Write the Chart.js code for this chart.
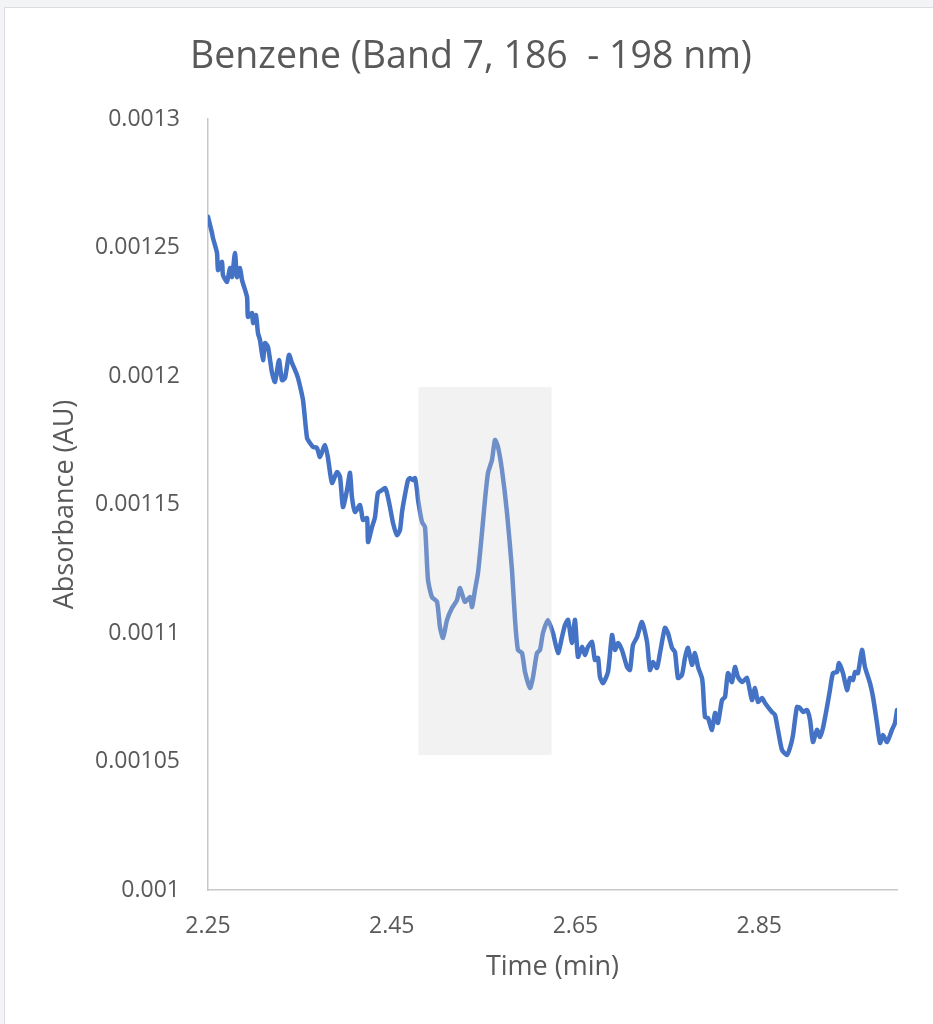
<!DOCTYPE html>
<html>
<head>
<meta charset="utf-8">
<script src="https://cdn.jsdelivr.net/npm/chart.js@4.4.1/dist/chart.umd.min.js"></script>
<style>
  html, body { margin: 0; padding: 0; background: #f3f4f6; overflow: hidden; }
  .card { position: absolute; left: 4px; top: 7px; width: 960px; height: 1040px; background: #fff; border: 1px solid #dcdde1; }
  #chart { position: absolute; left: 0; top: 0; }
</style>
</head>
<body>
<div class="card"></div>
<canvas id="chart" width="933" height="1024"></canvas>
<script>
// time (min)
const times = [
  2.2500, 2.2544, 2.2554, 2.2598, 2.2609, 2.2652, 2.2663, 2.2707, 2.2739, 2.2761,
  2.2794, 2.2816, 2.2848, 2.2870, 2.2925, 2.2935, 2.2979, 2.2990, 2.3022, 2.3044,
  2.3066, 2.3099, 2.3120, 2.3153, 2.3197, 2.3229, 2.3273, 2.3305, 2.3338, 2.3382,
  2.3414, 2.3469, 2.3491, 2.3534, 2.3578, 2.3610, 2.3643, 2.3686, 2.3719, 2.3774,
  2.3806, 2.3850, 2.3904, 2.3937, 2.3969, 2.4013, 2.4046, 2.4067, 2.4100, 2.4155,
  2.4187, 2.4231, 2.4242, 2.4285, 2.4318, 2.4350, 2.4394, 2.4427, 2.4448, 2.4481,
  2.4514, 2.4557, 2.4590, 2.4612, 2.4644, 2.4677, 2.4699, 2.4731, 2.4753, 2.4775,
  2.4786, 2.4829, 2.4862, 2.4895, 2.4938, 2.4993, 2.5025, 2.5058, 2.5102, 2.5156,
  2.5210, 2.5243, 2.5297, 2.5352, 2.5374, 2.5406, 2.5439, 2.5482, 2.5515, 2.5548,
  2.5591, 2.5624, 2.5657, 2.5700, 2.5755, 2.5809, 2.5842, 2.5874, 2.5918, 2.5951,
  2.6005, 2.6038, 2.6081, 2.6114, 2.6146, 2.6201, 2.6255, 2.6310, 2.6353, 2.6386,
  2.6419, 2.6462, 2.6495, 2.6527, 2.6571, 2.6604, 2.6636, 2.6680, 2.6712, 2.6745,
  2.6767, 2.6800, 2.6854, 2.6898, 2.6930, 2.6963, 2.7006, 2.7061, 2.7093, 2.7126,
  2.7170, 2.7224, 2.7279, 2.7311, 2.7344, 2.7387, 2.7420, 2.7474, 2.7507, 2.7551,
  2.7583, 2.7616, 2.7659, 2.7692, 2.7725, 2.7768, 2.7801, 2.7834, 2.7877, 2.7888,
  2.7910, 2.7943, 2.7986, 2.8019, 2.8051, 2.8095, 2.8128, 2.8160, 2.8204, 2.8236,
  2.8269, 2.8313, 2.8367, 2.8421, 2.8454, 2.8487, 2.8530, 2.8563, 2.8596, 2.8639,
  2.8672, 2.8704, 2.8748, 2.8802, 2.8835, 2.8868, 2.8911, 2.8944, 2.8977, 2.9020,
  2.9053, 2.9085, 2.9129, 2.9162, 2.9194, 2.9238, 2.9270, 2.9303, 2.9347, 2.9368,
  2.9412, 2.9456, 2.9488, 2.9521, 2.9543, 2.9575, 2.9619, 2.9651, 2.9706, 2.9739,
  2.9782, 2.9815, 2.9847, 2.9891, 2.9945, 2.9978, 3.0000
];

// absorbance (AU)
const absorbance = [
  0.0012619, 0.0012556, 0.0012537, 0.0012479, 0.0012412, 0.0012444, 0.0012393, 0.0012366, 0.0012420, 0.0012385,
  0.0012479, 0.0012385, 0.0012420, 0.0012374, 0.0012307, 0.0012230, 0.0012245, 0.0012206, 0.0012237, 0.0012167,
  0.0012140, 0.0012062, 0.0012128, 0.0012113, 0.0012012, 0.0011977, 0.0012062, 0.0011984, 0.0011992, 0.0012082,
  0.0012051, 0.0012004, 0.0011977, 0.0011907, 0.0011759, 0.0011739, 0.0011724, 0.0011720, 0.0011685, 0.0011732,
  0.0011681, 0.0011584, 0.0011626, 0.0011607, 0.0011490, 0.0011556, 0.0011623, 0.0011529, 0.0011471, 0.0011498,
  0.0011440, 0.0011447, 0.0011354, 0.0011412, 0.0011451, 0.0011545, 0.0011556, 0.0011564, 0.0011545, 0.0011490,
  0.0011428, 0.0011381, 0.0011401, 0.0011471, 0.0011537, 0.0011595, 0.0011603, 0.0011595, 0.0011603, 0.0011556,
  0.0011518, 0.0011432, 0.0011412, 0.0011206, 0.0011140, 0.0011121, 0.0011023, 0.0010981, 0.0011051, 0.0011097,
  0.0011128, 0.0011175, 0.0011121, 0.0011140, 0.0011101, 0.0011167, 0.0011234, 0.0011389, 0.0011518, 0.0011623,
  0.0011673, 0.0011751, 0.0011724, 0.0011634, 0.0011467, 0.0011245, 0.0011051, 0.0010934, 0.0010922, 0.0010848,
  0.0010786, 0.0010829, 0.0010922, 0.0010934, 0.0011000, 0.0011051, 0.0011000, 0.0010922, 0.0010984, 0.0011031,
  0.0011051, 0.0010961, 0.0011051, 0.0010907, 0.0010946, 0.0010914, 0.0010946, 0.0010965, 0.0010895, 0.0010903,
  0.0010829, 0.0010805, 0.0010848, 0.0010992, 0.0010934, 0.0010961, 0.0010934, 0.0010868, 0.0010856, 0.0010953,
  0.0010984, 0.0011043, 0.0010965, 0.0010856, 0.0010887, 0.0010864, 0.0010922, 0.0011020, 0.0011000, 0.0010942,
  0.0010926, 0.0010825, 0.0010837, 0.0010903, 0.0010942, 0.0010876, 0.0010922, 0.0010868, 0.0010825, 0.0010790,
  0.0010673, 0.0010669, 0.0010623, 0.0010689, 0.0010650, 0.0010739, 0.0010751, 0.0010844, 0.0010809, 0.0010868,
  0.0010829, 0.0010809, 0.0010825, 0.0010739, 0.0010786, 0.0010732, 0.0010747, 0.0010728, 0.0010712, 0.0010693,
  0.0010681, 0.0010623, 0.0010545, 0.0010525, 0.0010553, 0.0010603, 0.0010712, 0.0010708, 0.0010693, 0.0010700,
  0.0010662, 0.0010576, 0.0010623, 0.0010595, 0.0010630, 0.0010712, 0.0010778, 0.0010844, 0.0010848, 0.0010883,
  0.0010844, 0.0010778, 0.0010825, 0.0010817, 0.0010848, 0.0010844, 0.0010934, 0.0010868, 0.0010805, 0.0010751,
  0.0010650, 0.0010572, 0.0010603, 0.0010576, 0.0010623, 0.0010650, 0.0010700
];

const xTicks = [2.25, 2.45, 2.65, 2.85];
const xTickLabels = ['2.25', '2.45', '2.65', '2.85'];
const yTicks = [0.001, 0.00105, 0.0011, 0.00115, 0.0012, 0.00125, 0.0013];
const yTickLabels = ['0.001', '0.00105', '0.0011', '0.00115', '0.0012', '0.00125', '0.0013'];

// highlighted window around the benzene peak
const shadeFrom = 2.479, shadeTo = 2.624;
const shadeLow = 0.0010525, shadeHigh = 0.0011957;

const points = times.map((t, i) => ({ x: t, y: absorbance[i] }));

const shadePlugin = {
  id: 'shade',
  afterDatasetsDraw(chart) {
    const { ctx, scales: { x, y } } = chart;
    const x0 = x.getPixelForValue(shadeFrom), x1 = x.getPixelForValue(shadeTo);
    const y0 = y.getPixelForValue(shadeHigh), y1 = y.getPixelForValue(shadeLow);
    ctx.save();
    ctx.fillStyle = 'rgba(211,211,211,0.3)';
    ctx.fillRect(x0, y0, x1 - x0, y1 - y0);
    ctx.restore();
  }
};

const textColor = '#595959';
const sans = "'Open Sans', sans-serif";

new Chart(document.getElementById('chart'), {
  type: 'line',
  data: {
    datasets: [{
      data: points,
      borderColor: '#4472C4',
      borderWidth: 4.5,
      pointRadius: 0,
      tension: 0.2,
      borderJoinStyle: 'round',
      borderCapStyle: 'round'
    }]
  },
  options: {
    responsive: false,
    animation: false,
    devicePixelRatio: 1,
    layout: { padding: { left: 45, right: 36, top: 0, bottom: 0 } },
    plugins: {
      legend: { display: false },
      tooltip: { enabled: false },
      title: {
        display: true,
        text: 'Benzene (Band 7, 186  - 198 nm)',
        color: textColor,
        font: { family: sans, size: 37.5, weight: 'normal' },
        padding: { top: 34.5, bottom: 39.5 }
      }
    },
    scales: {
      x: {
        type: 'linear',
        min: 2.25,
        max: 3.0,
        afterBuildTicks: s => { s.ticks = xTicks.map(v => ({ value: v })); },
        afterFit: s => { s.height = 134; },
        ticks: {
          color: textColor,
          font: { family: sans, size: 23 },
          padding: 23,
          maxRotation: 0,
          callback: (v, i) => xTickLabels[i]
        },
        grid: { display: false, drawTicks: false },
        border: { display: true, color: '#c8c8c8', width: 1.5 },
        title: {
          display: true,
          text: 'Time (min)',
          color: textColor,
          font: { family: sans, size: 27 },
          padding: { top: 0, bottom: 40 }
        }
      },
      y: {
        min: 0.001,
        max: 0.0013,
        afterBuildTicks: s => { s.ticks = yTicks.map(v => ({ value: v })); },
        afterFit: s => { s.width = 163; },
        ticks: {
          color: textColor,
          font: { family: sans, size: 23 },
          padding: 28,
          callback: (v, i) => yTickLabels[i]
        },
        grid: { display: false, drawTicks: false },
        border: { display: true, color: '#c8c8c8', width: 1.5 },
        title: {
          display: true,
          text: 'Absorbance (AU)',
          color: textColor,
          font: { family: sans, size: 27 },
          padding: { top: 4, bottom: 0 }
        }
      }
    }
  },
  plugins: [shadePlugin]
});
</script>
</body>
</html>
